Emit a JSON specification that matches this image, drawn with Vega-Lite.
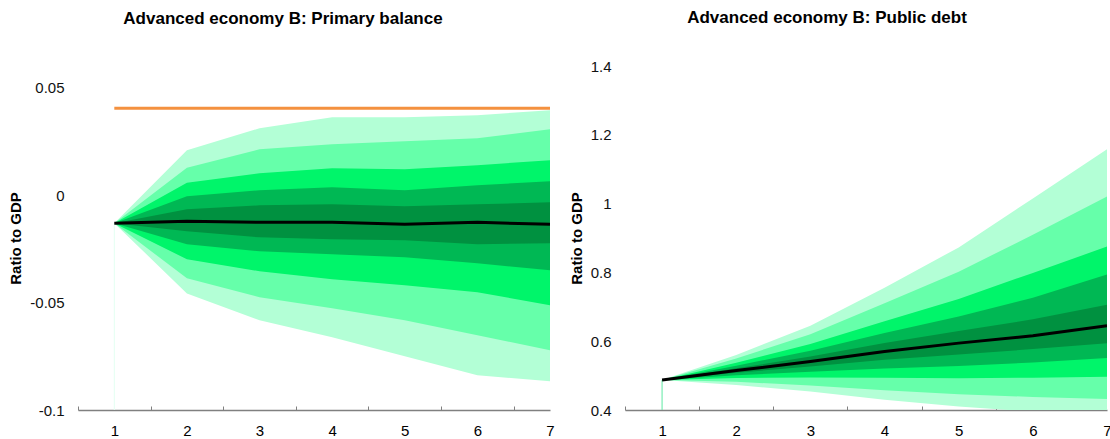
{
  "$schema": "https://vega.github.io/schema/vega-lite/v6.json",
  "background": "white",
  "padding": {"left": 8, "top": 9, "right": 0, "bottom": 0},
  "spacing": 14,
  "config": {
    "font": "Liberation Sans",
    "view": {"stroke": null},
    "title": {"fontSize": 17, "fontWeight": "bold", "color": "#000000", "font": "Liberation Sans"},
    "axis": {"labelFontSize": 15, "labelColor": "#111111", "titleFontSize": 15, "titleFontWeight": "bold", "titleColor": "#000000", "grid": false, "labelFont": "Liberation Sans", "titleFont": "Liberation Sans"}
  },
  "datasets": {
    "pb": [
      {"x": 1, "p05": -0.013, "p10": -0.013, "p20": -0.013, "p30": -0.013, "p40": -0.013, "p50": -0.013, "p60": -0.013, "p70": -0.013, "p80": -0.013, "p90": -0.013, "p95": -0.013},
      {"x": 2, "p05": -0.0457, "p10": -0.0387, "p20": -0.0298, "p30": -0.0228, "p40": -0.0168, "p50": -0.0121, "p60": -0.0065, "p70": -0.0005, "p80": 0.0058, "p90": 0.0128, "p95": 0.021},
      {"x": 3, "p05": -0.0582, "p10": -0.0475, "p20": -0.0354, "p30": -0.0261, "p40": -0.0196, "p50": -0.0126, "p60": -0.0047, "p70": 0.0023, "p80": 0.0102, "p90": 0.0214, "p95": 0.0312},
      {"x": 4, "p05": -0.0661, "p10": -0.0526, "p20": -0.0391, "p30": -0.0275, "p40": -0.0205, "p50": -0.0126, "p60": -0.0042, "p70": 0.0037, "p80": 0.0126, "p90": 0.0238, "p95": 0.0363},
      {"x": 5, "p05": -0.075, "p10": -0.0582, "p20": -0.0419, "p30": -0.0289, "p40": -0.021, "p50": -0.0135, "p60": -0.0051, "p70": 0.0023, "p80": 0.0121, "p90": 0.0252, "p95": 0.0363},
      {"x": 6, "p05": -0.0838, "p10": -0.0652, "p20": -0.0452, "p30": -0.0317, "p40": -0.0228, "p50": -0.0126, "p60": -0.0042, "p70": 0.0047, "p80": 0.014, "p90": 0.0265, "p95": 0.0373},
      {"x": 7, "p05": -0.0866, "p10": -0.0722, "p20": -0.0512, "p30": -0.0349, "p40": -0.0224, "p50": -0.0135, "p60": -0.0033, "p70": 0.0065, "p80": 0.0163, "p90": 0.0307, "p95": 0.0396}
    ],
    "pbtarget": [
      {"x": 1, "y": 0.0405},
      {"x": 7, "y": 0.0405}
    ],
    "pbstart": [
      {"x": 1, "y": -0.013, "y0": -0.1}
    ],
    "debt": [
      {"x": 1, "p05": 0.4875, "p10": 0.4875, "p20": 0.4875, "p30": 0.4875, "p40": 0.4875, "p50": 0.4875, "p60": 0.4875, "p70": 0.4875, "p80": 0.4875, "p90": 0.4875, "p95": 0.4875},
      {"x": 2, "p05": 0.4729, "p10": 0.4818, "p20": 0.4929, "p30": 0.5009, "p40": 0.5081, "p50": 0.5146, "p60": 0.5212, "p70": 0.5287, "p80": 0.5372, "p90": 0.5496, "p95": 0.56},
      {"x": 3, "p05": 0.4536, "p10": 0.4715, "p20": 0.4945, "p30": 0.5113, "p40": 0.5268, "p50": 0.5409, "p60": 0.5554, "p70": 0.5722, "p80": 0.5917, "p90": 0.6205, "p95": 0.645},
      {"x": 4, "p05": 0.4299, "p10": 0.4574, "p20": 0.4937, "p30": 0.5208, "p40": 0.5464, "p50": 0.57, "p60": 0.5946, "p70": 0.6238, "p80": 0.6582, "p90": 0.7103, "p95": 0.7557},
      {"x": 5, "p05": 0.41, "p10": 0.446, "p20": 0.492, "p30": 0.528, "p40": 0.5611, "p50": 0.5944, "p60": 0.6296, "p70": 0.6721, "p80": 0.723, "p90": 0.802, "p95": 0.8726},
      {"x": 6, "p05": 0.395, "p10": 0.438, "p20": 0.494, "p30": 0.538, "p40": 0.577, "p50": 0.6157, "p60": 0.6637, "p70": 0.7265, "p80": 0.7986, "p90": 0.9094, "p95": 1.0151},
      {"x": 7, "p05": 0.38, "p10": 0.432, "p20": 0.497, "p30": 0.551, "p40": 0.594, "p50": 0.645, "p60": 0.706, "p70": 0.794, "p80": 0.875, "p90": 1.021, "p95": 1.158}
    ],
    "debtstart": [
      {"x": 1, "y": 0.4875, "y0": 0.4}
    ]
  },
  "hconcat": [
    {
      "width": 472,
      "height": 344,
      "title": {"text": "Advanced economy B: Primary balance", "offset": 38, "dx": -31},
      "encoding": {
        "x": {
          "field": "x", "type": "quantitative",
          "scale": {"domain": [0.5, 7], "nice": false, "zero": false},
          "axis": {"title": null, "values": [1, 2, 3, 4, 5, 6, 7], "labelExpr": "'' + datum.value", "domainColor": "#808080", "domainWidth": 1.5, "tickColor": "#808080", "tickWidth": 1, "tickSize": -4, "tickOffset": -36.35, "labelOffset": 36.35, "labelPadding": 17, "labelFlush": false, "labelColor": "#000000"}
        }
      },
      "layer": [
        {
          "data": {"name": "pb"},
          "mark": {"type": "area", "color": "#b3ffd6", "opacity": 1, "clip": true},
          "encoding": {
            "y": {"field": "p05", "type": "quantitative", "title": "Ratio to GDP",
              "scale": {"domain": [-0.1, 0.0602], "nice": false, "zero": false},
              "axis": {"values": [-0.1, -0.05, 0, 0.05], "labelExpr": "'' + datum.value", "domain": false, "ticks": false, "labelPadding": 14, "titlePadding": 6, "labelFlush": false}},
            "y2": {"field": "p95"}
          }
        },
        {
          "data": {"name": "pb"},
          "mark": {"type": "area", "color": "#66ffaa", "opacity": 1, "clip": true},
          "encoding": {"y": {"field": "p10", "type": "quantitative", "title": "Ratio to GDP"}, "y2": {"field": "p90"}}
        },
        {
          "data": {"name": "pb"},
          "mark": {"type": "area", "color": "#00f56a", "opacity": 1, "clip": true},
          "encoding": {"y": {"field": "p20", "type": "quantitative", "title": "Ratio to GDP"}, "y2": {"field": "p80"}}
        },
        {
          "data": {"name": "pb"},
          "mark": {"type": "area", "color": "#00b854", "opacity": 1, "clip": true},
          "encoding": {"y": {"field": "p30", "type": "quantitative", "title": "Ratio to GDP"}, "y2": {"field": "p70"}}
        },
        {
          "data": {"name": "pb"},
          "mark": {"type": "area", "color": "#009140", "opacity": 1, "clip": true},
          "encoding": {"y": {"field": "p40", "type": "quantitative", "title": "Ratio to GDP"}, "y2": {"field": "p60"}}
        },
        {
          "data": {"name": "pbstart"},
          "mark": {"type": "rule", "color": "#e3fff2", "strokeWidth": 1},
          "encoding": {"y": {"field": "y", "type": "quantitative", "title": "Ratio to GDP"}, "y2": {"field": "y0"}}
        },
        {
          "data": {"name": "pb"},
          "mark": {"type": "line", "color": "#000000", "strokeWidth": 3, "clip": true},
          "encoding": {"y": {"field": "p50", "type": "quantitative", "title": "Ratio to GDP"}}
        },
        {
          "data": {"name": "pbtarget"},
          "mark": {"type": "line", "color": "#f4913f", "strokeWidth": 3, "clip": true},
          "encoding": {"y": {"field": "y", "type": "quantitative", "title": "Ratio to GDP"}}
        }
      ]
    },
    {
      "width": 482,
      "height": 344,
      "title": {"text": "Advanced economy B: Public debt", "offset": 32, "dx": -39},
      "encoding": {
        "x": {
          "field": "x", "type": "quantitative",
          "scale": {"domain": [0.5, 7], "nice": false, "zero": false},
          "axis": {"title": null, "values": [1, 2, 3, 4, 5, 6, 7], "labelExpr": "'' + datum.value", "domainColor": "#808080", "domainWidth": 1.5, "tickColor": "#808080", "tickWidth": 1, "tickSize": -4, "tickOffset": -37.08, "labelOffset": 37.08, "labelPadding": 17, "labelFlush": false, "labelColor": "#000000"}
        }
      },
      "layer": [
        {
          "data": {"name": "debt"},
          "mark": {"type": "area", "color": "#b3ffd6", "opacity": 1, "clip": true},
          "encoding": {
            "y": {"field": "p05", "type": "quantitative", "title": "Ratio to GDP",
              "scale": {"domain": [0.4, 1.4], "nice": false, "zero": false},
              "axis": {"values": [0.4, 0.6, 0.8, 1, 1.2, 1.4], "labelExpr": "'' + datum.value", "domain": false, "ticks": false, "labelPadding": 14, "titlePadding": 6, "labelFlush": false}},
            "y2": {"field": "p95"}
          }
        },
        {
          "data": {"name": "debt"},
          "mark": {"type": "area", "color": "#66ffaa", "opacity": 1, "clip": true},
          "encoding": {"y": {"field": "p10", "type": "quantitative", "title": "Ratio to GDP"}, "y2": {"field": "p90"}}
        },
        {
          "data": {"name": "debt"},
          "mark": {"type": "area", "color": "#00f56a", "opacity": 1, "clip": true},
          "encoding": {"y": {"field": "p20", "type": "quantitative", "title": "Ratio to GDP"}, "y2": {"field": "p80"}}
        },
        {
          "data": {"name": "debt"},
          "mark": {"type": "area", "color": "#00b854", "opacity": 1, "clip": true},
          "encoding": {"y": {"field": "p30", "type": "quantitative", "title": "Ratio to GDP"}, "y2": {"field": "p70"}}
        },
        {
          "data": {"name": "debt"},
          "mark": {"type": "area", "color": "#009140", "opacity": 1, "clip": true},
          "encoding": {"y": {"field": "p40", "type": "quantitative", "title": "Ratio to GDP"}, "y2": {"field": "p60"}}
        },
        {
          "data": {"name": "debtstart"},
          "mark": {"type": "rule", "color": "#5ee8a4", "strokeWidth": 1},
          "encoding": {"y": {"field": "y", "type": "quantitative", "title": "Ratio to GDP"}, "y2": {"field": "y0"}}
        },
        {
          "data": {"name": "debt"},
          "mark": {"type": "line", "color": "#000000", "strokeWidth": 3, "clip": true},
          "encoding": {"y": {"field": "p50", "type": "quantitative", "title": "Ratio to GDP"}}
        }
      ]
    }
  ]
}
